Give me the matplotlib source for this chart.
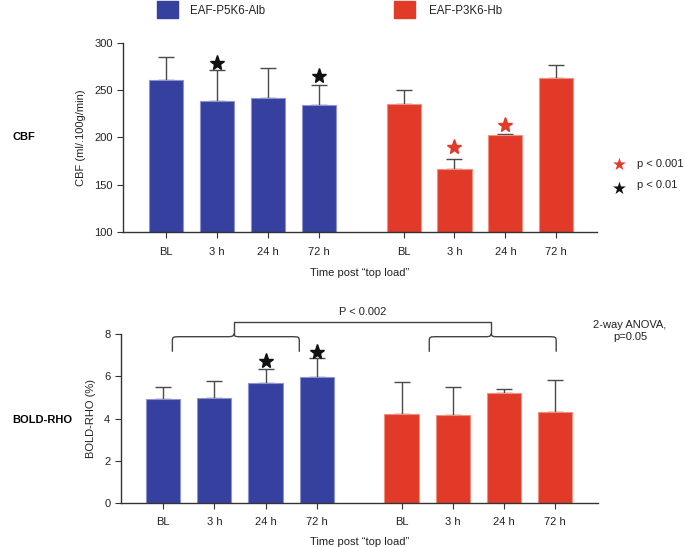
import matplotlib.pyplot as plt
import numpy as np
from matplotlib.path import Path
from matplotlib.patches import PathPatch, Rectangle

plt.rcParams['font.family'] = ['Liberation Sans', 'DejaVu Sans']
plt.rcParams['font.size'] = 8

# data
timepoints = ['BL', '3 h', '24 h', '72 h']
groups = ['EAF-P5K6-Alb', 'EAF-P3K6-Hb']

cbf_alb = [260.5, 238.6, 242.0, 234.0]
cbf_alb_err = [24.7, 33.2, 31.9, 21.6]
cbf_hb = [235.4, 167.0, 203.0, 263.3]
cbf_hb_err = [14.5, 10.6, 0.7, 13.4]

bold_alb = [4.92, 4.95, 5.66, 5.97]
bold_alb_err = [0.58, 0.80, 0.66, 0.89]
bold_hb = [4.21, 4.17, 5.19, 4.29]
bold_hb_err = [1.50, 1.33, 0.19, 1.51]

# stars: (bar index, y)  index 0-3 alb, 4-7 hb
cbf_stars_black = [(1, 279), (3, 265.5)]
cbf_stars_red = [(5, 190), (6, 213.5)]
bold_stars_black = [(2, 6.73), (3, 7.14)]

blue = '#36409E'
red = '#E13A29'
blue_edge = '#8d93cf'
red_edge = '#f2907f'
err_col = '#4a4a4a'

pos_alb = np.arange(4)
pos_hb = np.arange(4) + 4.66
positions = np.concatenate([pos_alb, pos_hb])
width = 0.67

fig = plt.figure(figsize=(6.85, 5.47), dpi=100)
ax1 = fig.add_axes([0.1796, 0.5759, 0.692, 0.3455])
ax2 = fig.add_axes([0.1762, 0.0799, 0.697, 0.31])


def draw(ax, a, ae, h, he, xpad, lpad):
    ax.bar(pos_alb, a, width, color=blue, edgecolor=blue_edge, linewidth=0.8, zorder=2)
    ax.bar(pos_hb, h, width, color=red, edgecolor=red_edge, linewidth=0.8, zorder=2)
    ax.errorbar(pos_alb, a, yerr=[np.zeros(4), ae], fmt='none', ecolor=err_col,
                elinewidth=1, capsize=6, capthick=1, zorder=1)
    ax.errorbar(pos_hb, h, yerr=[np.zeros(4), he], fmt='none', ecolor=err_col,
                elinewidth=1, capsize=6, capthick=1, zorder=1)
    for s in ['top', 'right']:
        ax.spines[s].set_visible(False)
    for s in ['left', 'bottom']:
        ax.spines[s].set_color('#333333')
        ax.spines[s].set_linewidth(1)
    ax.set_xticks(positions)
    ax.set_xticklabels(timepoints * 2)
    ax.tick_params(axis='both', length=4, color='#333333', labelcolor='#222222', labelsize=8)
    ax.tick_params(axis='x', pad=xpad)
    ax.set_xlabel('Time post \u201ctop load\u201d', fontsize=8, labelpad=lpad, color='#222222')


draw(ax1, cbf_alb, cbf_alb_err, cbf_hb, cbf_hb_err, 7, 8)
ax1.set_ylim(100, 300)
ax1.set_xlim(-0.85, 8.46)
ax1.set_yticks([100, 150, 200, 250, 300])
ax1.set_ylabel('CBF (ml/.100g/min)', fontsize=8, labelpad=6, color='#222222')
for i, y in cbf_stars_black:
    ax1.plot(positions[i], y, marker='*', color='#111111', markersize=11, zorder=3)
for i, y in cbf_stars_red:
    ax1.plot(positions[i], y, marker='*', color=red, markersize=11, zorder=3)

draw(ax2, bold_alb, bold_alb_err, bold_hb, bold_hb_err, 6, 7)
ax2.set_ylim(0, 8)
ax2.set_xlim(-0.83, 8.5)
ax2.set_yticks([0, 2, 4, 6, 8])
ax2.set_ylabel('BOLD-RHO (%)', fontsize=8, labelpad=6, color='#222222')
for i, y in bold_stars_black:
    ax2.plot(positions[i], y, marker='*', color='#111111', markersize=11, zorder=3)


# curly braces
def brace(ax, x0, x1, xc, ybot, ytop):
    r = 0.18
    v = [(x0, ybot), (x0, ytop - 0.25),
         (x0, ytop), (x0, ytop), (x0 + r, ytop),
         (xc - 0.1, ytop),
         (xc - 0.02, ytop), (xc, ytop + 0.05), (xc, ytop + 0.14),
         (xc, ytop + 0.05), (xc + 0.02, ytop), (xc + 0.1, ytop),
         (x1 - r, ytop),
         (x1, ytop), (x1, ytop), (x1, ytop - 0.25),
         (x1, ybot)]
    c = [Path.MOVETO, Path.LINETO,
         Path.CURVE4, Path.CURVE4, Path.CURVE4,
         Path.LINETO,
         Path.CURVE4, Path.CURVE4, Path.CURVE4,
         Path.CURVE4, Path.CURVE4, Path.CURVE4,
         Path.LINETO,
         Path.CURVE4, Path.CURVE4, Path.CURVE4,
         Path.LINETO]
    ax.add_patch(PathPatch(Path(v, c), fill=False, edgecolor='#444444', lw=1, clip_on=False))


xc_l, xc_r = 1.38, 6.41
brace(ax2, 0.18, 2.66, xc_l, 7.15, 7.86)
brace(ax2, 5.2, 7.68, xc_r, 7.15, 7.86)
ax2.plot([xc_l, xc_l, xc_r, xc_r], [8.0, 8.54, 8.54, 8.0], color='#444444', lw=1, clip_on=False)
ax2.text((xc_l + xc_r) / 2, 8.8, 'P < 0.002', ha='center', va='bottom', fontsize=8, color='#222222')

# legend at top
fig.patches.append(Rectangle((157 / 685, 1 - 18 / 547), 21 / 685, 17 / 547,
                             transform=fig.transFigure, color=blue, figure=fig))
fig.text(190 / 685, 1 - 11 / 547, groups[0], ha='left', va='center', fontsize=8.3, color='#222222')
fig.patches.append(Rectangle((394 / 685, 1 - 18 / 547), 21 / 685, 17 / 547,
                             transform=fig.transFigure, color=red, figure=fig))
fig.text(429 / 685, 1 - 11 / 547, groups[1], ha='left', va='center', fontsize=8.3, color='#222222')

# star key
fig.text(619 / 685, 1 - 165 / 547, '\u2605', ha='center', va='center', fontsize=12,
         color=red, family=['DejaVu Sans'])
fig.text(637 / 685, 1 - 164 / 547, 'p < 0.001', ha='left', va='center', fontsize=8, color='#222222')
fig.text(619 / 685, 1 - 189 / 547, '\u2605', ha='center', va='center', fontsize=12,
         color='#111111', family=['DejaVu Sans'])
fig.text(637 / 685, 1 - 185 / 547, 'p < 0.01', ha='left', va='center', fontsize=8, color='#222222')

fig.text(630 / 685, 1 - 331 / 547, '2-way ANOVA,\np=0.05', ha='center', va='center',
         fontsize=8, color='#222222', linespacing=1.3)

# row labels
fig.text(12 / 685, 1 - 137 / 547, 'CBF', ha='left', va='center', fontsize=8, fontweight='bold')
fig.text(12 / 685, 1 - 420 / 547, 'BOLD-RHO', ha='left', va='center', fontsize=8, fontweight='bold')

fig.savefig('out.png', dpi=100)
